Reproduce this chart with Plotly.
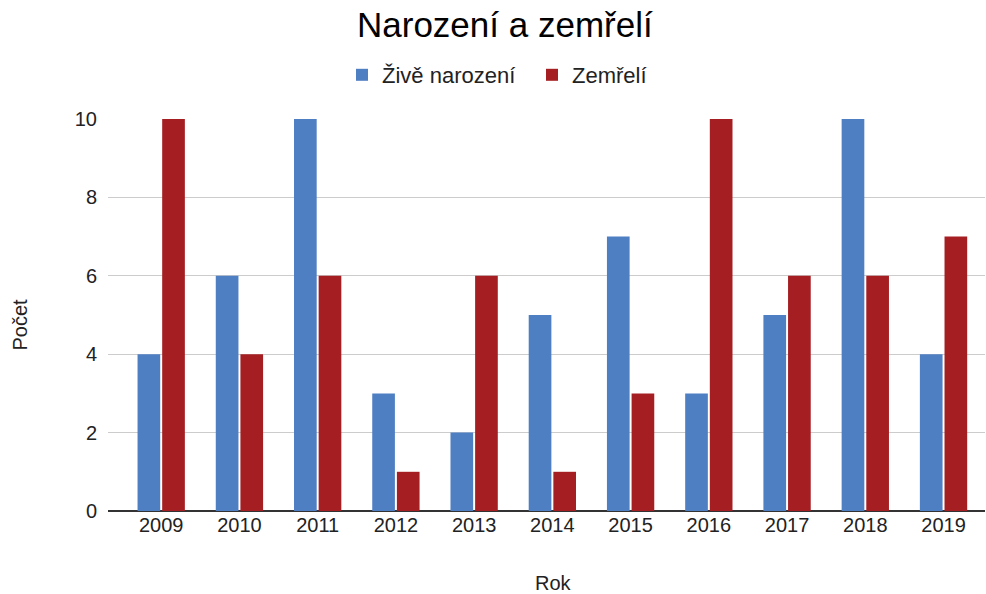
import plotly.graph_objects as go

years = ["2009", "2010", "2011", "2012", "2013", "2014", "2015", "2016", "2017", "2018", "2019"]
narozeni = [4, 6, 10, 3, 2, 5, 7, 3, 5, 10, 4]
zemreli = [10, 4, 6, 1, 6, 1, 3, 10, 6, 6, 7]
y_ticks = [0, 2, 4, 6, 8, 10]

fig = go.Figure()
fig.add_bar(x=years, y=narozeni, name="Živě narození", marker_color="#4f7fc3",
            marker_line_width=0)
fig.add_bar(x=years, y=zemreli, name="Zemřelí", marker_color="#a51e22",
            marker_line_width=0)

font = "Liberation Sans, Arial, sans-serif"
L, R, T, B, W, H = 108, 1, 119, 83, 986, 594
pw, ph = W - L - R, H - T - B

fig.update_layout(
    width=W, height=H,
    margin=dict(l=L, r=R, t=T, b=B),
    paper_bgcolor="white", plot_bgcolor="white",
    barmode="group", bargap=0.37, bargroupgap=0.08,
    font=dict(family=font, size=20, color="#222222"),
    title=dict(text="Narození a zemřelí", x=0.512, xanchor="center", xref="container",
               y=1 - 25 / 594, yref="container", yanchor="middle",
               font=dict(size=35, color="#000000")),
    legend=dict(orientation="h", x=342 / W, xanchor="left", xref="container",
                y=1 - 75 / 594, yref="container", yanchor="middle",
                font=dict(size=22, color="#222222"), itemwidth=30,
                entrywidth=145, entrywidthmode="pixels",
                traceorder="normal"),
    xaxis=dict(type="category", range=[-0.68, 10.53], showgrid=False,
               ticks="", tickfont=dict(size=20, color="#222222")),
    yaxis=dict(range=[0, 10], tickvals=y_ticks, showgrid=True, gridcolor="#cccccc",
               gridwidth=1, zeroline=True, zerolinecolor="#333333", zerolinewidth=1.5,
               ticks="", tickfont=dict(size=20, color="#222222"), ticklabelstandoff=10),
    annotations=[
        dict(text="Počet", textangle=-90, xref="paper", yref="paper",
             x=(19.5 - L) / pw, y=(H - B - 325) / ph, xanchor="center", yanchor="middle",
             showarrow=False, font=dict(size=20, color="#222222")),
        dict(text="Rok", xref="paper", yref="paper",
             x=(553 - L) / pw, y=(H - B - 583) / ph, xanchor="center", yanchor="middle",
             showarrow=False, font=dict(size=20, color="#222222")),
    ],
)

fig.write_html("out.html", config={"displayModeBar": False},
               post_script="document.body.style.margin='0';")
